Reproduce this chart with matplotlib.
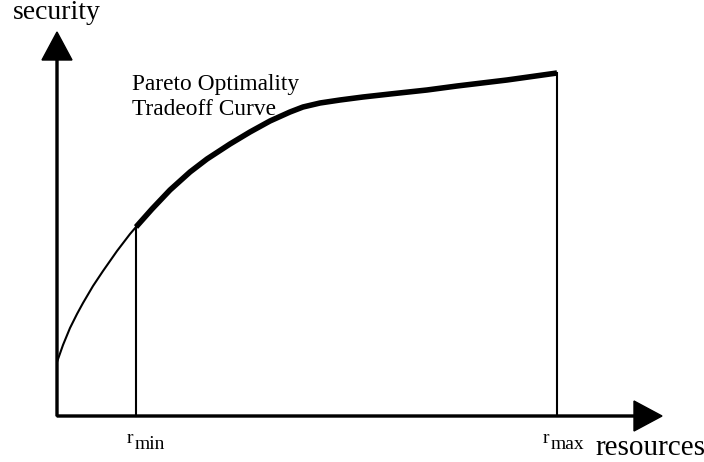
import matplotlib.pyplot as plt

plt.rcParams['font.family'] = ['Liberation Serif', 'DejaVu Serif']

# curve (resources, security), origin at the axes corner
thin_res = [0, 6, 13, 20, 26, 36, 46, 60, 73, 79]
thin_sec = [54, 71, 88, 102, 113, 130, 145, 165, 182, 189]

pareto_res = [79, 95, 113, 133, 150, 173, 193, 213, 233, 246, 263, 283, 306, 333, 370, 400, 450, 500]
pareto_sec = [189, 207, 226, 244, 257, 272, 284, 295, 304, 309, 313, 316, 319, 322, 326, 330, 336, 343]

r_min = 79
r_max = 500

fig = plt.figure(figsize=(7.04, 4.62), dpi=100)
ax = fig.add_axes([0, 0, 1, 1])
ax.set_xlim(-57, 647)
ax.set_ylim(-46, 416)
ax.axis('off')

# axes with arrow heads
ax.arrow(0, 0, 0, 384, width=2, head_width=30, head_length=28,
         length_includes_head=True, color='black')
ax.arrow(0, 0, 605, 0, width=2, head_width=30, head_length=28,
         length_includes_head=True, color='black')

# curve: thin part below r_min, thick Pareto part between r_min and r_max
ax.plot(thin_res, thin_sec, color='black', lw=1.5, solid_capstyle='butt',
        solid_joinstyle='round')
ax.plot(pareto_res, pareto_sec, color='black', lw=4, solid_capstyle='butt',
        solid_joinstyle='round')

# r_min / r_max markers
ax.plot([r_min, r_min], [0, thin_sec[-1]], color='black', lw=1.5)
ax.plot([r_max, r_max], [0, pareto_sec[-1]], color='black', lw=1.5)

ax.text(r_min - 9, -27, 'r', fontsize=14, ha='left', va='baseline')
ax.text(r_min - 1, -33, 'min', fontsize=14, ha='left', va='baseline')
ax.text(r_max - 14, -27, 'r', fontsize=14, ha='left', va='baseline')
ax.text(r_max - 6, -33, 'max', fontsize=14, ha='left', va='baseline')

ax.text(0, 397, 'security', fontsize=20, ha='center', va='baseline')
ax.text(648, -39, 'resources', fontsize=21, ha='right', va='baseline')

ax.text(75, 326, 'Pareto Optimality', fontsize=16.8, ha='left', va='baseline')
ax.text(75, 301, 'Tradeoff Curve', fontsize=16.8, ha='left', va='baseline')

fig.savefig('out.png', dpi=100)
